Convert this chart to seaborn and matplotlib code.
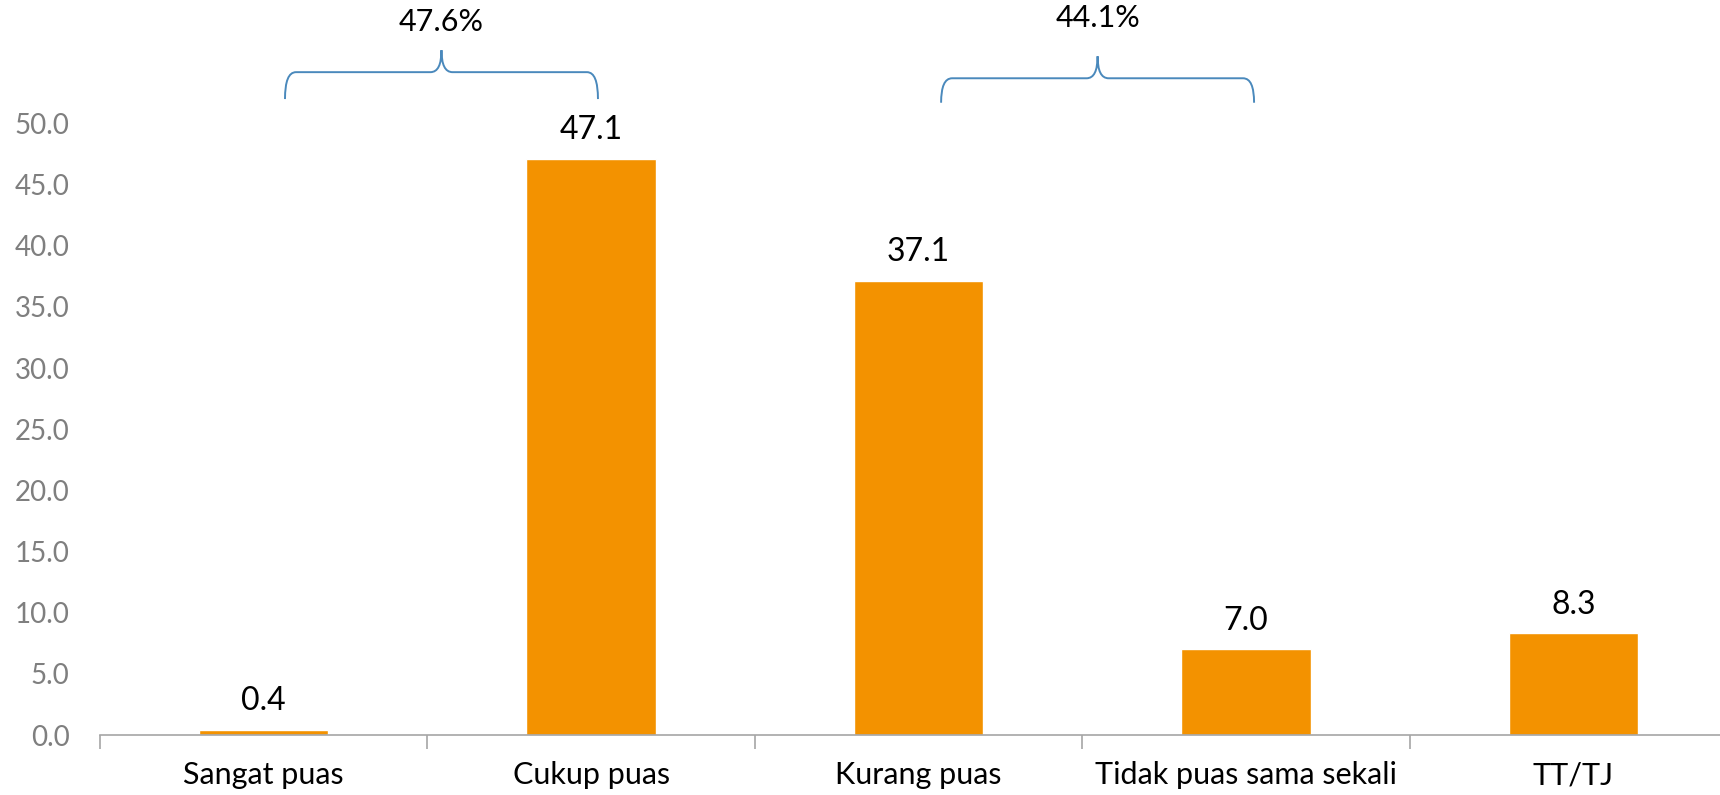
import numpy as np
import matplotlib
matplotlib.use("Agg")
import matplotlib.pyplot as plt
from matplotlib.path import Path
from matplotlib.patches import PathPatch
import seaborn as sns

# Survey responses (%)
categories = ["Sangat puas", "Cukup puas", "Kurang puas", "Tidak puas sama sekali", "TT/TJ"]
values = [0.4, 47.1, 37.1, 7.0, 8.3]

# Grouped totals shown above the braces
group_labels = ["47.6%", "44.1%"]

BAR_COLOR = "#F39200"
BRACE_COLOR = "#4A89BC"
AXIS_GRAY = "#A6A6A6"
TICK_GRAY = "#7F7F7F"

sns.set_theme(style="white")
plt.rcParams["font.family"] = ["Lato", "DejaVu Sans"]

fig = plt.figure(figsize=(17.2, 7.95), dpi=100)
ax = fig.add_axes([100 / 1720, 60 / 795, 1637 / 1720, 735 / 795])

sns.barplot(x=categories, y=values, color=BAR_COLOR, width=0.395,
            saturation=1, ax=ax)

ax.set_xlim(-0.5, len(categories) - 0.5)
ax.set_ylim(0, 60.1)
ax.set_xlabel("")
ax.set_ylabel("")

# y axis: labels only
yticks = np.arange(0, 50.1, 5)
ax.set_yticks(yticks)
ax.set_yticklabels([f"{v:.1f}" for v in yticks])
ax.tick_params(axis="y", length=0, pad=22, labelsize=20, labelcolor=TICK_GRAY)

# x axis: tick marks between categories, labels centred on bars
ax.set_xticks(np.arange(-0.5, len(categories) + 0.5, 1))
ax.set_xticklabels([])
ax.set_xticks(np.arange(len(categories)), minor=True)
ax.set_xticklabels(categories, minor=True)
ax.tick_params(axis="x", which="major", length=10, width=1.2, color=AXIS_GRAY,
               direction="out", bottom=True)
ax.tick_params(axis="x", which="minor", length=0, pad=19, labelsize=22,
               labelcolor="black", bottom=True)

for side in ["top", "right", "left"]:
    ax.spines[side].set_visible(False)
ax.spines["bottom"].set_color(AXIS_GRAY)
ax.spines["bottom"].set_linewidth(1.2)
ax.grid(False)

for container in ax.containers:
    ax.bar_label(container, labels=[f"{v:.1f}" for v in values],
                 padding=10, fontsize=23, color="black")


def draw_brace(ax, x0, x1, y_end, y_mid, y_tip, color):
    """Horizontal curly brace opening downward, tip pointing up."""
    xc = (x0 + x1) / 2
    r = 0.035 * (x1 - x0)
    verts = [
        (x0, y_end),
        (x0, y_mid), (x0 + r, y_mid),
        (xc - r, y_mid),
        (xc, y_mid), (xc, y_tip),
        (xc, y_mid), (xc + r, y_mid),
        (x1 - r, y_mid),
        (x1, y_mid), (x1, y_end),
    ]
    codes = [
        Path.MOVETO,
        Path.CURVE3, Path.CURVE3,
        Path.LINETO,
        Path.CURVE3, Path.CURVE3,
        Path.CURVE3, Path.CURVE3,
        Path.LINETO,
        Path.CURVE3, Path.CURVE3,
    ]
    ax.add_patch(PathPatch(Path(verts, codes), facecolor="none",
                           edgecolor=color, linewidth=1.4, clip_on=False))


brace_geom = [
    # (left, right, end y, bar y, tip y, label y)
    (0.065, 1.021, 52.0, 54.2, 56.0, 58.3),
    (2.069, 3.025, 51.7, 53.7, 55.5, 58.6),
]
for (x0, x1, ye, ym, yt, yl), label in zip(brace_geom, group_labels):
    draw_brace(ax, x0, x1, ye, ym, yt, BRACE_COLOR)
    ax.text((x0 + x1) / 2, yl, label, ha="center", va="center",
            fontsize=22, color="black", clip_on=False)

fig.savefig("out.png", dpi=100)
